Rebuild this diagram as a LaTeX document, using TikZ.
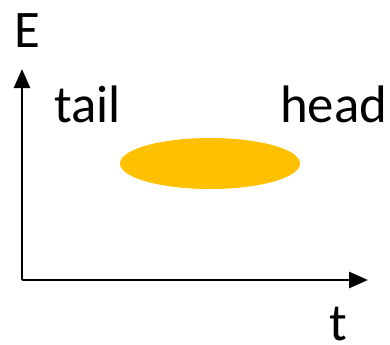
\documentclass[tikz,border=0pt]{standalone}
\usepackage{fontspec}
\setmainfont{Carlito}
\usetikzlibrary{arrows.meta}

\begin{document}
\begin{tikzpicture}[x=1bp,y=-1bp,
  axis/.style={line width=2.6bp,-{Triangle[length=19bp,width=16bp]}},
  lbl/.style={inner sep=0pt,anchor=base west,font=\fontsize{53}{60}\selectfont}]
  \useasboundingbox (0,0) rectangle (390,345);
  \coordinate (origin) at (22,280);
  \coordinate (etop) at (22,69);
  \coordinate (tend) at (368,280);
  \draw[axis] (origin) -- (etop);
  \draw[axis] (origin) -- (tend);

  \fill[color={rgb,255:red,255;green,192;blue,0}] (210,163.5) ellipse (90 and 25.5);

  \node[lbl] (elabel) at (14,47) {E};
  \node[lbl] (tlabel) at (329,340) {t};
  \node[lbl] (tail) at (54,122) {tail};
  \node[lbl] (head) at (280,122) {head};
\end{tikzpicture}
\end{document}
